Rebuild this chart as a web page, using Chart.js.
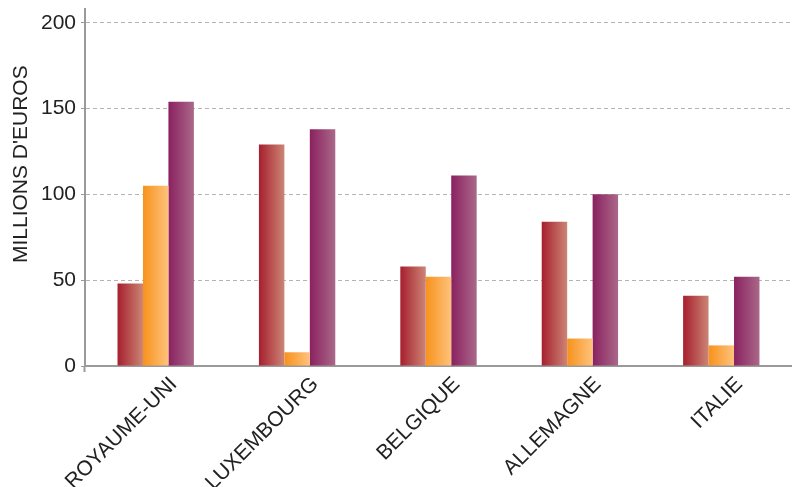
<!DOCTYPE html>
<html>
<head>
<meta charset="utf-8">
<script src="https://cdn.jsdelivr.net/npm/chart.js@4/dist/chart.umd.min.js"></script>
<style>
  html, body { margin: 0; padding: 0; background: #ffffff; }
  #wrap { width: 792px; height: 487px; position: relative; }
</style>
</head>
<body>
<div id="wrap"><canvas id="c"></canvas></div>
<script>
const categories = ['ROYAUME-UNI', 'LUXEMBOURG', 'BELGIQUE', 'ALLEMAGNE', 'ITALIE'];
const seriesRed = [48, 129, 58, 84, 41];
const seriesOrange = [105, 8, 52, 16, 12];
const seriesPurple = [154, 138, 111, 100, 52];
const yTicks = [0, 50, 100, 150, 200];
const yTitle = "MILLIONS D'EUROS";

const gradients = [
  ['#a61f2e', '#cc8575'],
  ['#f7921c', '#fec27c'],
  ['#8a2160', '#aa6889']
];

const FONT = '"Liberation Sans", Arial, Helvetica, sans-serif';

const gradientPlugin = {
  id: 'barGradient',
  beforeDatasetDraw(chart, args) {
    const ctx = chart.ctx;
    const meta = args.meta;
    const cols = gradients[args.index];
    meta.data.forEach(el => {
      const w = el.width;
      const g = ctx.createLinearGradient(el.x - w / 2, 0, el.x + w / 2, 0);
      g.addColorStop(0, cols[0]);
      g.addColorStop(1, cols[1]);
      el.options = Object.assign({}, el.options, { backgroundColor: g });
    });
  }
};

new Chart(document.getElementById('c'), {
  type: 'bar',
  data: {
    labels: categories,
    datasets: [
      { label: 'Série 1', data: seriesRed, backgroundColor: gradients[0][0] },
      { label: 'Série 2', data: seriesOrange, backgroundColor: gradients[1][0] },
      { label: 'Série 3', data: seriesPurple, backgroundColor: gradients[2][0] }
    ]
  },
  plugins: [gradientPlugin],
  options: {
    responsive: true,
    maintainAspectRatio: false,
    animation: false,
    layout: { padding: { top: 0, right: 0, left: 0, bottom: 0 } },
    plugins: {
      legend: { display: false },
      tooltip: { enabled: false }
    },
    datasets: {
      bar: { categoryPercentage: 0.54, barPercentage: 1.0, borderWidth: 0 }
    },
    scales: {
      x: {
        offset: true,
        grid: {
          offset: true,
          drawOnChartArea: false,
          drawTicks: true,
          tickLength: 6,
          tickColor: (c) => (c.index === 0 ? '#9a9a9a' : 'rgba(0,0,0,0)'),
          tickWidth: 2
        },
        border: { display: true, color: '#9a9a9a', width: 2 },
        ticks: {
          autoSkip: false,
          maxRotation: 45,
          minRotation: 45,
          padding: 0,
          labelOffset: 18,
          color: '#222222',
          font: { family: FONT, size: 21 }
        },
        afterFit: (s) => { s.height = 121; }
      },
      y: {
        min: 0,
        max: 208,
        afterBuildTicks: (s) => { s.ticks = yTicks.map(v => ({ value: v })); },
        grid: {
          color: (c) => (c.tick && c.tick.value === 0 ? 'rgba(0,0,0,0)' : '#b4b4b4'),
          lineWidth: 1,
          drawTicks: true,
          tickLength: 4,
          tickColor: '#9a9a9a',
          tickBorderDash: []
        },
        border: { display: true, color: '#9a9a9a', width: 2, dash: [4, 3] },
        ticks: {
          padding: 5,
          color: '#222222',
          font: { family: FONT, size: 21, lineHeight: 0.38 }
        },
        title: {
          display: true,
          text: '        ' + yTitle,
          color: '#222222',
          font: { family: FONT, size: 21 },
          padding: { top: 9, bottom: 0 }
        },
        afterFit: (s) => { s.width = 85; }
      }
    }
  }
});
</script>
</body>
</html>
